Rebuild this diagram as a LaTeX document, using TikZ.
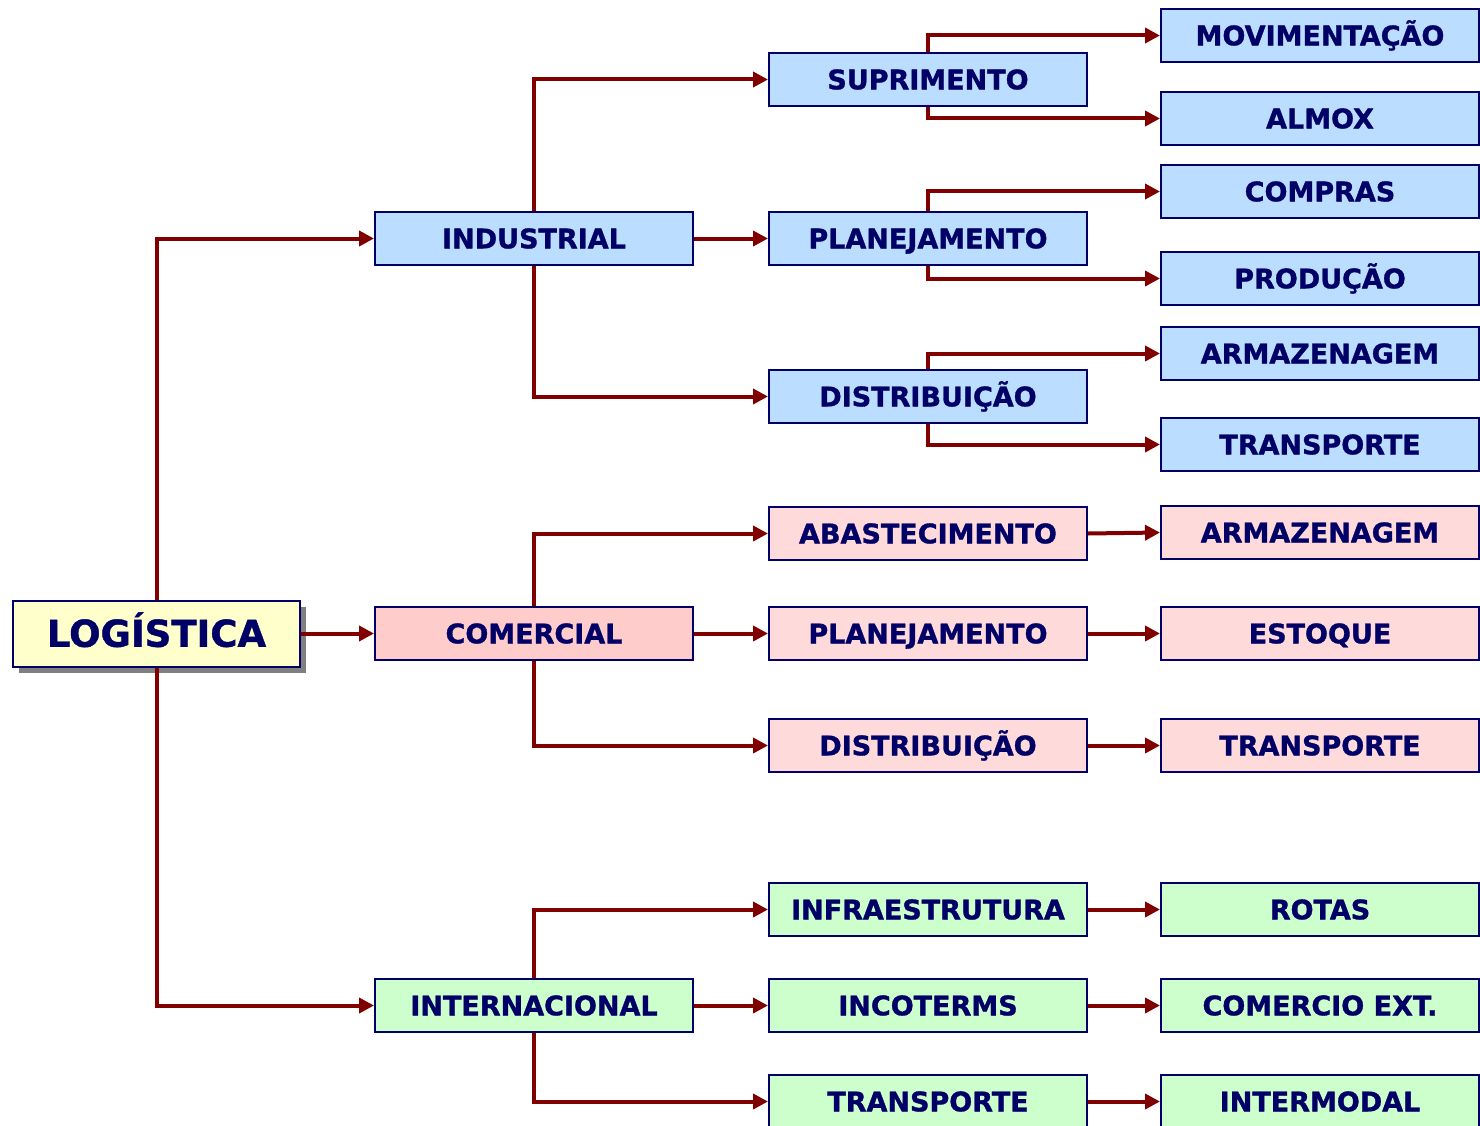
\documentclass[tikz,border=0pt]{standalone}
\usepackage{fontspec}
\setmainfont{DejaVu Sans}[BoldFeatures={FakeBold=1.2}]
\usetikzlibrary{arrows.meta,shadows}
\definecolor{navy}{HTML}{000066}
\definecolor{linkred}{HTML}{800000}
\definecolor{rootfill}{HTML}{FFFFCC}
\definecolor{bluefill}{HTML}{BBDDFF}
\definecolor{pinkmain}{HTML}{FFCCCC}
\definecolor{pinkfill}{HTML}{FFDADA}
\definecolor{greenfill}{HTML}{CCFFCC}
\tikzset{
  box/.style={rectangle, draw=navy, line width=2pt, inner sep=0pt,
    minimum width=318pt, minimum height=53pt, text=navy,
    text height=19.7pt, text depth=0pt,
    font=\fontsize{27}{27}\selectfont\bfseries},
  bluebox/.style={box, fill=bluefill},
  pinkbox/.style={box, fill=pinkfill},
  pinkhead/.style={box, fill=pinkmain},
  greenbox/.style={box, fill=greenfill},
  rootbox/.style={rectangle, draw=navy, line width=2pt, inner sep=0pt,
    minimum width=287pt, minimum height=66pt, text=navy, fill=rootfill,
    text height=26.5pt, text depth=0pt,
    font=\fontsize{37}{37}\selectfont\bfseries,
    drop shadow={shadow xshift=6pt, shadow yshift=-6pt, fill=gray, opacity=1}},
  link/.style={draw=linkred, line width=4pt,
    -{Triangle[length=15pt,width=15pt]}}
}
\begin{document}
\begin{tikzpicture}[x=1pt,y=-1pt]
\useasboundingbox (0,0) rectangle (1480,1126);

% root
\node[rootbox] (log) at (156.5,633.5) {LOGÍSTICA};

% first level
\node[bluebox]  (ind) at (534,238.5)  {INDUSTRIAL};
\node[pinkhead] (com) at (534,633.5)  {COMERCIAL};
\node[greenbox] (int) at (534,1005.5) {INTERNACIONAL};

% second level
\node[bluebox]  (sup)  at (928,79.5)   {SUPRIMENTO};
\node[bluebox]  (plaI) at (928,238.5)  {PLANEJAMENTO};
\node[bluebox]  (disI) at (928,396.5)  {DISTRIBUIÇÃO};
\node[pinkbox]  (aba)  at (928,533.5)  {ABASTECIMENTO};
\node[pinkbox]  (plaC) at (928,633.5)  {PLANEJAMENTO};
\node[pinkbox]  (disC) at (928,745.5)  {DISTRIBUIÇÃO};
\node[greenbox] (inf)  at (928,909.5)  {INFRAESTRUTURA};
\node[greenbox] (inc)  at (928,1005.5) {INCOTERMS};
\node[greenbox] (traG) at (928,1101.5) {TRANSPORTE};

% third level
\node[bluebox]  (mov)  at (1320,35.5)   {MOVIMENTAÇÃO};
\node[bluebox]  (alm)  at (1320,118.5)  {ALMOX};
\node[bluebox]  (cpr)  at (1320,191.5)  {COMPRAS};
\node[bluebox]  (pro)  at (1320,278.5)  {PRODUÇÃO};
\node[bluebox]  (armI) at (1320,353.5)  {ARMAZENAGEM};
\node[bluebox]  (traI) at (1320,444.5)  {TRANSPORTE};
\node[pinkbox]  (armC) at (1320,532.5)  {ARMAZENAGEM};
\node[pinkbox]  (est)  at (1320,633.5)  {ESTOQUE};
\node[pinkbox]  (traC) at (1320,745.5)  {TRANSPORTE};
\node[greenbox] (rot)  at (1320,909.5)  {ROTAS};
\node[greenbox] (cex)  at (1320,1005.5) {COMERCIO EXT.};
\node[greenbox] (itm)  at (1320,1101.5) {INTERMODAL};

% root links
\draw[link] (log.north) |- (ind.west);
\draw[link] (log.east) -- (com.west);
\draw[link] (log.south) |- (int.west);

% industrial branch
\draw[link] (ind.north) |- (sup.west);
\draw[link] (ind.east) -- (plaI.west);
\draw[link] (ind.south) |- (disI.west);
\draw[link] (sup.north) |- (mov.west);
\draw[link] (sup.south) |- (alm.west);
\draw[link] (plaI.north) |- (cpr.west);
\draw[link] (plaI.south) |- (pro.west);
\draw[link] (disI.north) |- (armI.west);
\draw[link] (disI.south) |- (traI.west);

% commercial branch
\draw[link] (com.north) |- (aba.west);
\draw[link] (com.east) -- (plaC.west);
\draw[link] (com.south) |- (disC.west);
\draw[link] (aba.east) -- (armC.west);
\draw[link] (plaC.east) -- (est.west);
\draw[link] (disC.east) -- (traC.west);

% international branch
\draw[link] (int.north) |- (inf.west);
\draw[link] (int.east) -- (inc.west);
\draw[link] (int.south) |- (traG.west);
\draw[link] (inf.east) -- (rot.west);
\draw[link] (inc.east) -- (cex.west);
\draw[link] (traG.east) -- (itm.west);
\end{tikzpicture}
\end{document}
